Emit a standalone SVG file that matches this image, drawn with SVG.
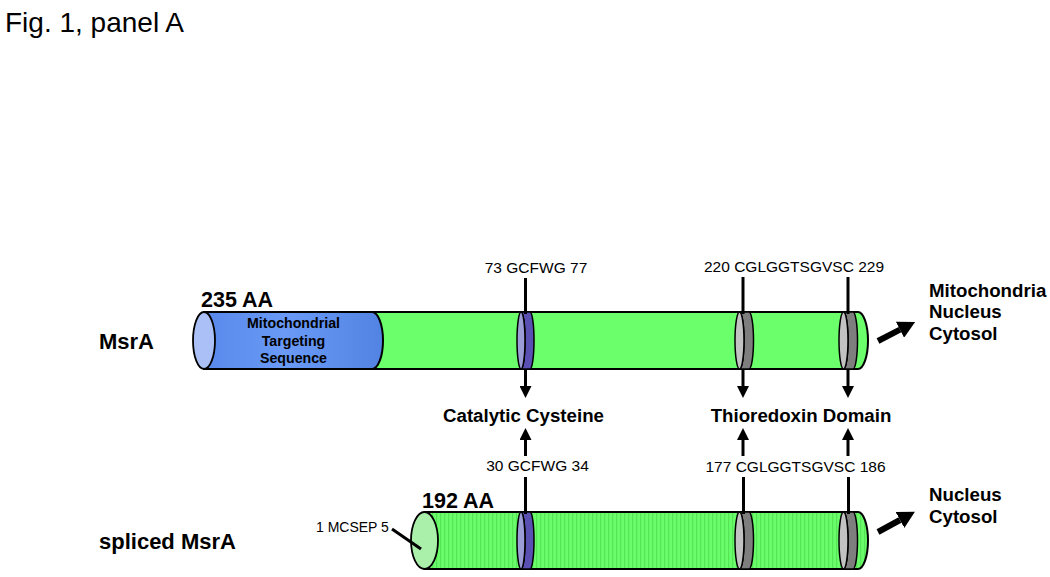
<svg xmlns="http://www.w3.org/2000/svg" width="1050" height="577" viewBox="0 0 1050 577">
<style>
  .title{font-family:"Liberation Sans",Arial,sans-serif;font-size:28px;fill:#000}
  .b{font-family:"Liberation Sans",Arial,sans-serif;font-weight:bold;fill:#000}
  .lab{font-size:18.7px}
  .name{font-size:22px}
  .aa{font-size:21.5px}
  .mts{font-size:14.2px;text-anchor:middle}
  .seq{font-family:"Liberation Sans",Arial,sans-serif;font-size:15.5px;fill:#000;text-anchor:middle}
  .small{font-family:"Liberation Sans",Arial,sans-serif;font-size:14px;fill:#000}
  .edge{stroke:#000;stroke-width:2}
  .cap{stroke:#000;stroke-width:1.8}
  .band{stroke:#000;stroke-width:1.5}
  .ln{stroke:#000;stroke-width:3;fill:none}
  .big{stroke:#000;stroke-width:6;fill:none}
</style>
<defs>
  <linearGradient id="blueG" x1="0" y1="0" x2="1" y2="0">
    <stop offset="0" stop-color="#5888ea"/>
    <stop offset="0.45" stop-color="#6a9af6"/>
    <stop offset="1" stop-color="#5283e2"/>
  </linearGradient>
  <pattern id="stripes" width="4" height="10" patternUnits="userSpaceOnUse">
    <rect width="4" height="10" fill="#6afc6a"/>
    <rect x="0" width="1.2" height="10" fill="#55e655"/>
  </pattern>
  <g id="purpleBand">
    <path class="band" d="M0,0 L9,0 A4,28.5 0 0 1 9,57 L0,57 A4,28.5 0 0 0 0,0 Z" fill="#5a50b2"/>
    <ellipse class="band" cx="0" cy="28.5" rx="4" ry="28.5" fill="#9c9cd6"/>
  </g>
  <g id="grayBand">
    <path class="band" d="M0,0 L9.5,0 A4.5,28.5 0 0 1 9.5,57 L0,57 A4.5,28.5 0 0 0 0,0 Z" fill="#7e7e7e"/>
    <ellipse class="band" cx="0" cy="28.5" rx="4.5" ry="28.5" fill="#c2c2c2"/>
  </g>
  <marker id="ah" markerUnits="userSpaceOnUse" markerWidth="12" markerHeight="12" refX="0" refY="6" orient="auto">
    <path d="M0,0 L12,6 L0,12 Z" fill="#000"/>
  </marker>
  <marker id="bigah" markerUnits="userSpaceOnUse" markerWidth="17" markerHeight="18" refX="0" refY="9" orient="auto">
    <path d="M0,0 L17,9 L0,18 Z" fill="#000"/>
  </marker>
</defs>

<rect width="1050" height="577" fill="#fff"/>

<g id="title"><text class="title" x="5" y="32">Fig. 1, panel A</text></g>

<!-- MsrA cylinder -->
<g id="msra">
  <path class="edge" d="M360,312 L858,312 A10,28.5 0 0 1 858,369 L360,369 Z" fill="#6bff6b"/>
  <path class="edge" d="M204,312 L372,312 A11,28.5 0 0 1 372,369 L204,369 Z" fill="url(#blueG)"/>
  <ellipse class="cap" cx="204" cy="340.5" rx="11" ry="28.5" fill="#aac0f6"/>
  <use href="#purpleBand" x="521" y="312"/>
  <use href="#grayBand" x="739.5" y="312"/>
  <use href="#grayBand" x="843.5" y="312"/>
  <text class="b mts" x="293.5" y="328">Mitochondrial</text>
  <text class="b mts" x="293.5" y="346">Targeting</text>
  <text class="b mts" x="293.5" y="363">Sequence</text>
</g>

<!-- spliced MsrA cylinder -->
<g id="spliced-msra">
  <path class="edge" d="M424.5,512 L858,512 A10,28.5 0 0 1 858,569 L424.5,569 Z" fill="url(#stripes)"/>
  <ellipse class="cap" cx="424.5" cy="540.5" rx="13.5" ry="28.5" fill="#aaf0aa"/>
  <use href="#purpleBand" x="521" y="512"/>
  <use href="#grayBand" x="739.5" y="512"/>
  <use href="#grayBand" x="843.5" y="512"/>
</g>

<g id="labels-left">
  <text class="b name" x="99" y="349">MsrA</text>
  <text class="b name" x="99" y="549">spliced MsrA</text>
  <text class="b aa" x="201" y="307">235 AA</text>
  <text class="b aa" x="422" y="508">192 AA</text>
  <text class="small" x="316" y="532">1 MCSEP 5</text>
</g>

<g id="labels-seq">
  <text class="seq" x="536" y="273">73 GCFWG 77</text>
  <text class="seq" x="794" y="272">220 CGLGGTSGVSC 229</text>
  <text class="seq" x="537.5" y="471">30 GCFWG 34</text>
  <text class="seq" x="795.5" y="472">177 CGLGGTSGVSC 186</text>
</g>

<g id="labels-function">
  <text class="b lab" x="523.5" y="422" text-anchor="middle">Catalytic Cysteine</text>
  <text class="b lab" x="801" y="422" text-anchor="middle">Thioredoxin Domain</text>
</g>

<g id="labels-location">
  <text class="b lab" x="929" y="297">Mitochondria</text>
  <text class="b lab" x="929" y="318">Nucleus</text>
  <text class="b lab" x="929" y="340">Cytosol</text>
  <text class="b lab" x="929" y="501">Nucleus</text>
  <text class="b lab" x="929" y="523">Cytosol</text>
</g>

<g id="connectors">
  <line class="ln" x1="525.5" y1="278" x2="525.5" y2="314"/>
  <line class="ln" x1="743" y1="277" x2="743" y2="314"/>
  <line class="ln" x1="848" y1="277" x2="848" y2="314"/>
  <line class="ln" x1="525.5" y1="369" x2="525.5" y2="386" marker-end="url(#ah)"/>
  <line class="ln" x1="743" y1="369" x2="743" y2="386" marker-end="url(#ah)"/>
  <line class="ln" x1="848" y1="369" x2="848" y2="386" marker-end="url(#ah)"/>
  <line class="ln" x1="525.5" y1="456" x2="525.5" y2="440" marker-end="url(#ah)"/>
  <line class="ln" x1="743" y1="456" x2="743" y2="440" marker-end="url(#ah)"/>
  <line class="ln" x1="848" y1="456" x2="848" y2="440" marker-end="url(#ah)"/>
  <line class="ln" x1="525.5" y1="477" x2="525.5" y2="514"/>
  <line class="ln" x1="743.5" y1="477" x2="743.5" y2="514"/>
  <line class="ln" x1="848.5" y1="477" x2="848.5" y2="514"/>
  <line class="ln" x1="392" y1="529" x2="421" y2="549"/>
  <line class="big" x1="878" y1="341" x2="900" y2="329.7" marker-end="url(#bigah)"/>
  <line class="big" x1="878" y1="532" x2="900" y2="520" marker-end="url(#bigah)"/>
</g>
</svg>
